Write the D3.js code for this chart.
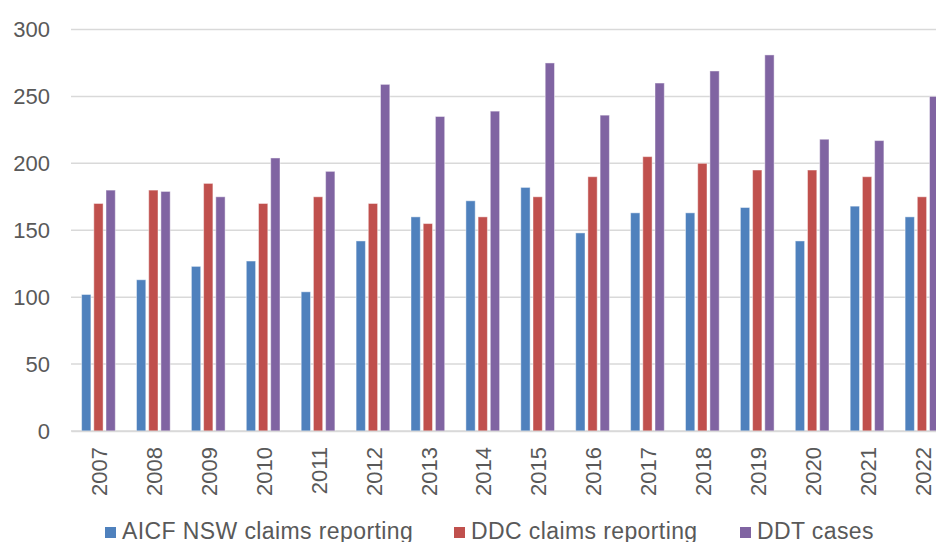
<!DOCTYPE html>
<html>
<head>
<meta charset="utf-8">
<script src="https://cdn.jsdelivr.net/npm/d3@7"></script>
<style>
  html, body { margin: 0; padding: 0; background: #fff; }
  svg { display: block; font-family: "Liberation Sans", Arial, sans-serif; }
</style>
</head>
<body>
<svg width="936" height="542"></svg>
<script>
var years = ["2007", "2008", "2009", "2010", "2011", "2012", "2013", "2014",
  "2015", "2016", "2017", "2018", "2019", "2020", "2021", "2022"];
var seriesNames = ["AICF NSW claims reporting", "DDC claims reporting", "DDT cases"];
var aicf = [102, 113, 123, 127, 104, 142, 160, 172, 182, 148, 163, 163, 167, 142, 168, 160];
var ddc = [170, 180, 185, 170, 175, 170, 155, 160, 175, 190, 205, 200, 195, 195, 190, 175];
var ddt = [180, 179, 175, 204, 194, 259, 235, 239, 275, 236, 260, 269, 281, 218, 217, 250];
var yTicks = [0, 50, 100, 150, 200, 250, 300];
var colors = ["#4f81bd", "#c0504d", "#8064a2"];

var width = 936;
var height = 542;
var margin = {
  left: 71,
  top: 29.5,
  bottom: 111
};

var seriesValues = [aicf, ddc, ddt];

// x scale for the years, runs past the right edge like the original
var xScale = d3.scaleBand()
  .domain(years)
  .range([margin.left, margin.left + 54.9 * years.length]);

// inner scale for the three bars in a year
var xInner = d3.scaleBand()
  .domain([0, 1, 2])
  .range([-16.85, 16.85])
  .paddingInner(0.238);

var yScale = d3.scaleLinear()
  .domain([0, 300])
  .range([height - margin.bottom, margin.top]);

var svg = d3.select('svg');

// gridlines
svg.append('g')
  .selectAll('line')
  .data(yTicks)
  .enter()
  .append('line')
  .attr('x1', margin.left)
  .attr('x2', width)
  .attr('y1', function(d) { return yScale(d); })
  .attr('y2', function(d) { return yScale(d); })
  .attr('stroke', '#d9d9d9')
  .attr('stroke-width', 1.5);

// y axis labels
var yAxis = d3.axisLeft(yScale)
  .tickValues(yTicks)
  .tickSize(0)
  .tickPadding(21);

svg.append('g')
  .attr('class', 'axis')
  .attr('transform', 'translate(' + margin.left + ',0)')
  .call(yAxis)
  .call(function(g) { g.select('.domain').remove(); })
  .selectAll('text')
  .attr('fill', '#595959')
  .style('font-size', '22px')
  .style('font-family', '"Liberation Sans", Arial, sans-serif');

// bars
var groups = svg.selectAll('.year')
  .data(years)
  .enter()
  .append('g')
  .attr('class', 'year')
  .attr('transform', function(d) {
    return 'translate(' + (xScale(d) + xScale.bandwidth() / 2) + ',0)';
  });

groups.selectAll('rect')
  .data(function(d, i) {
    return seriesValues.map(function(s, j) { return { s: j, v: s[i] }; });
  })
  .enter()
  .append('rect')
  .attr('x', function(d) { return xInner(d.s); })
  .attr('y', function(d) { return yScale(d.v); })
  .attr('width', xInner.bandwidth())
  .attr('height', function(d) { return yScale(0) - yScale(d.v); })
  .attr('fill', function(d) { return colors[d.s]; })
  .attr('stroke', 'rgba(255,255,255,0.45)')
  .attr('stroke-width', 1);

// x axis
var xAxis = d3.axisBottom(xScale)
  .tickSize(0)
  .tickPadding(0);

var xg = svg.append('g')
  .attr('class', 'axis')
  .attr('transform', 'translate(0,' + yScale(0) + ')')
  .call(xAxis);

xg.select('.domain')
  .attr('stroke', '#d9d9d9')
  .attr('stroke-width', 1.5);

xg.selectAll('text')
  .attr('fill', '#595959')
  .style('font-size', '22px')
  .style('font-family', '"Liberation Sans", Arial, sans-serif')
  .attr('text-anchor', 'end')
  .attr('transform', 'translate(1,16) rotate(-90)')
  .attr('x', 0)
  .attr('y', 0)
  .attr('dy', '0.35em');

// legend
var legendX = [105, 454, 740];
var legend = svg.append('g')
  .selectAll('g')
  .data(seriesNames)
  .enter()
  .append('g')
  .attr('transform', function(d, i) { return 'translate(' + legendX[i] + ',527)'; });

legend.append('rect')
  .attr('width', 11)
  .attr('height', 11)
  .attr('fill', function(d, i) { return colors[i]; });

legend.append('text')
  .attr('x', 17)
  .attr('y', 11.5)
  .attr('fill', '#595959')
  .style('font-size', '23px')
  .style('letter-spacing', '0.4px')
  .text(function(d) { return d; });
</script>
</body>
</html>
